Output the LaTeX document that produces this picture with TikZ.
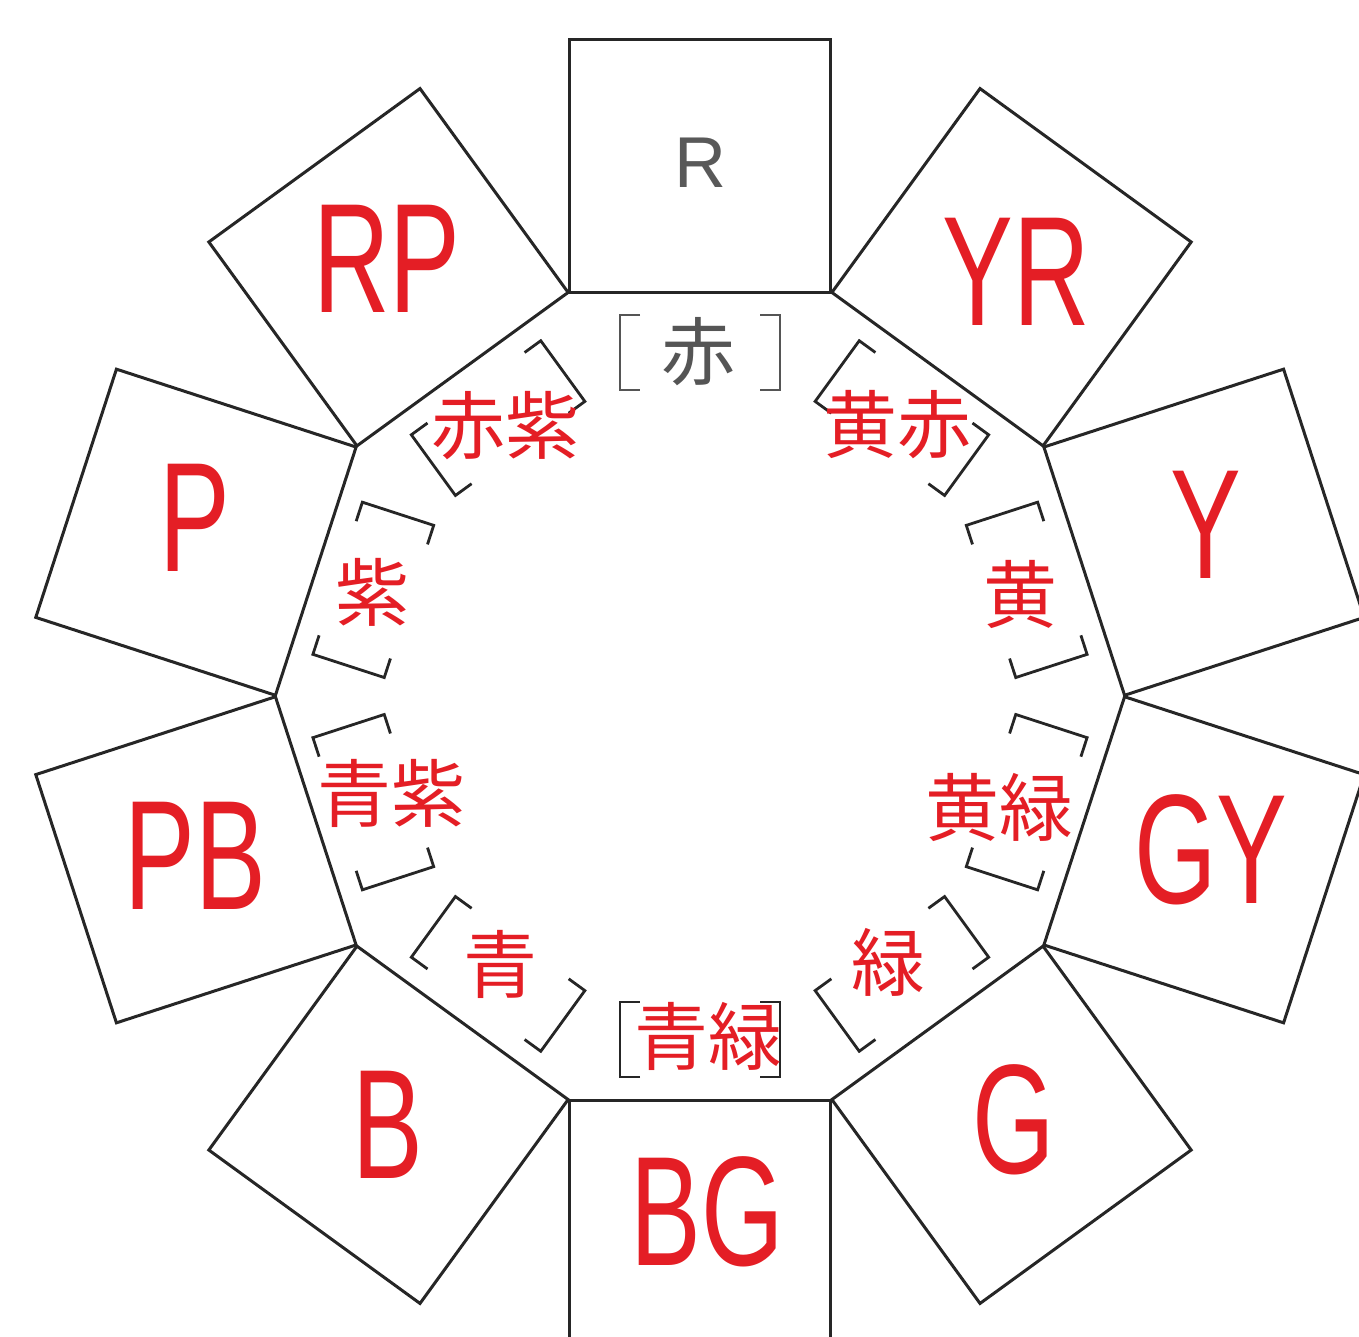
\documentclass[tikz,border=0pt]{standalone}
\usepackage{fontspec}
\setmainfont{Liberation Sans}
\newfontfamily\cjk{Noto Sans CJK JP}
\newfontfamily\latlab[FakeStretch=0.68]{Liberation Sans}
\definecolor{labred}{RGB}{228,30,37}
\definecolor{brkgray}{RGB}{85,85,85}
\begin{document}
\begin{tikzpicture}[x=0.5pt,y=-0.5pt,
  sq/.style={draw=black!85, line width=1.5pt, line join=miter},
  brk/.style={draw=black!85, line width=1.4pt},
  big/.style={text=labred, font=\latlab\fontsize{78}{78}\selectfont, inner sep=0pt},
  jp/.style={text=labred, font=\cjk\fontsize{37}{37}\selectfont, inner sep=0pt},
  jpg/.style={text=brkgray, font=\cjk\fontsize{37}{37}\selectfont, inner sep=0pt}]
\useasboundingbox (0,0) rectangle (1359,1337);
\clip (0,0) rectangle (1359,1337);
% squares on the ten edges of the decagon
\foreach \k in {0,...,9}{
  \begin{scope}[rotate around={36*\k:(700,696)}]
    \draw[sq] (569.5,292) -- (830.5,292) -- (830.5,40) -- (569.5,40) -- cycle;
  \end{scope}
}
% brackets along each edge
\foreach \k in {1,...,9}{
  \begin{scope}[rotate around={36*\k:(700,696)}]
    \draw[brk] (640,315) -- (620,315) -- (620,390) -- (640,390);
    \draw[brk] (760,315) -- (780,315) -- (780,390) -- (760,390);
  \end{scope}
}
\draw[brk, draw=brkgray] (640,315) -- (620,315) -- (620,390) -- (640,390);
\draw[brk, draw=brkgray] (760,315) -- (780,315) -- (780,390) -- (760,390);
% square labels
\node[text=black!65, font=\fontsize{36}{36}\selectfont, inner sep=0pt] (lR) at (700,163) {R};
\node[big] (lRP) at (387,259) {RP};
\node[big] (lYR) at (1016,272) {YR};
\node[big] (lP) at (195,518) {P};
\node[big] (lY) at (1206,525) {Y};
\node[big] (lPB) at (195,856) {PB};
\node[big] (lGY) at (1211,850) {GY};
\node[big] (lB) at (388,1125) {B};
\node[big] (lG) at (1014,1120) {G};
\node[big] (lBG) at (707,1212) {BG};
% inner labels
\node[jpg] (jR) at (698,352) {赤};
\node[jp] (jRP) at (505,426) {赤紫};
\node[jp] (jYR) at (897,425) {黄赤};
\node[jp] (jP) at (372,592) {紫};
\node[jp] (jY) at (1020,594) {黄};
\node[jp] (jPB) at (391,793) {青紫};
\node[jp] (jGY) at (999,807) {黄緑};
\node[jp] (jB) at (500,964) {青};
\node[jp] (jG) at (888,962) {緑};
\node[jp] (jBG) at (708,1036) {青緑};
\end{tikzpicture}
\end{document}
